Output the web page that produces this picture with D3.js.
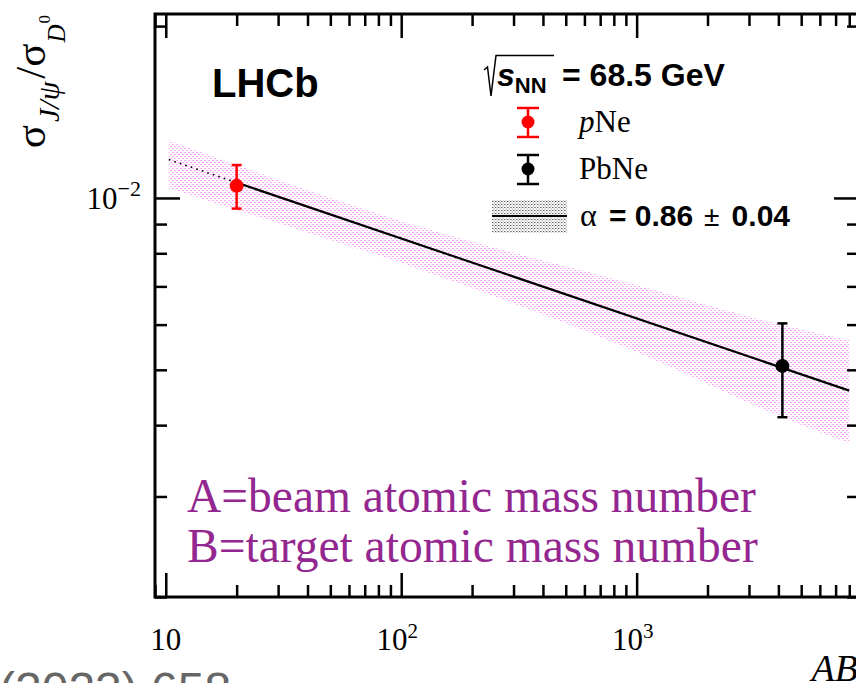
<!DOCTYPE html>
<html>
<head>
<meta charset="utf-8">
<script src="https://cdn.jsdelivr.net/npm/d3@7"></script>
<style>
  body { margin: 0; background: #fff; }
  svg { display: block; }
</style>
</head>
<body>
<svg id="chart" width="856" height="683"></svg>
<script>
// Measured J/psi to D0 cross-section ratios versus AB
const systems = ["pNe", "PbNe"];
const abValues = [20, 4160];
const ratioValues = [0.0105, 0.00508];
const ratioErrors = [0.00092, 0.00095];
const systemColors = ["#ff0000", "#000000"];

// Power-law fit: ratio = norm * (AB)^(alpha - 1)
const alphaFit = 0.86;
const alphaErr = 0.04;
const fitNorm = 0.01618;
const fitStart = 10.3;
const fitSolidStart = 20;
const fitEnd = 8000;

// Fit uncertainty band edges
const bandAB = [10.3, 20, 100, 1000, 4160, 8000];
const bandLow = [0.01040, 0.00953, 0.00769, 0.00537, 0.00413, 0.00372];
const bandHigh = [0.01262, 0.01142, 0.00911, 0.00704, 0.00599, 0.00564];

// Axis ticks
const xMajorTicks = [10, 100, 1000];
const xTickBase = ["10", "10", "10"];
const xTickExp = ["", "2", "3"];
const yMajorTicks = [0.01];
const yTickBase = ["10"];
const yTickExp = ["\u22122"];

const svg = d3.select("#chart");

const frame = { left: 155, right: 859, top: 14, bottom: 597 };

const x = d3.scaleLog().domain([9, 8800]).range([frame.left, frame.right]);
const y = d3.scaleLog().domain([0.002, 0.021]).range([frame.bottom, frame.top]);

// minor tick positions: 2..9 times each decade
function minorTicks(lo, hi) {
  const out = [];
  for (let e = Math.floor(Math.log10(lo)); e <= Math.ceil(Math.log10(hi)); e++) {
    for (let k = 1; k <= 9; k++) {
      const v = k * Math.pow(10, e);
      if (v >= lo * 0.9999 && v <= hi * 1.0001) out.push(v);
    }
  }
  return out;
}
const xMinor = minorTicks(9, 8800).filter(v => !xMajorTicks.some(m => Math.abs(m - v) < 1e-9 * m));
const yMinor = minorTicks(0.002, 0.021).filter(v => !yMajorTicks.some(m => Math.abs(m - v) < 1e-9));

const defs = svg.append("defs");
const pink = defs.append("pattern")
  .attr("id", "pinkDots").attr("patternUnits", "userSpaceOnUse")
  .attr("width", 4).attr("height", 4);
pink.append("rect").attr("x", 0).attr("y", 0).attr("width", 2).attr("height", 1).attr("fill", "#ff4dff").attr("opacity", 0.5);
pink.append("rect").attr("x", 2).attr("y", 2).attr("width", 2).attr("height", 1).attr("fill", "#ff4dff").attr("opacity", 0.5);

const grey = defs.append("pattern")
  .attr("id", "greyDots").attr("patternUnits", "userSpaceOnUse")
  .attr("width", 3).attr("height", 3);
grey.append("rect").attr("x", 0).attr("y", 0).attr("width", 1.5).attr("height", 1).attr("fill", "#666");
grey.append("rect").attr("x", 1.5).attr("y", 1.5).attr("width", 1.5).attr("height", 1).attr("fill", "#aaa");

const plot = svg.append("g");

// uncertainty band
const bandData = bandAB.map((ab, i) => ({ ab, lo: bandLow[i], hi: bandHigh[i] }));
plot.append("path")
  .datum(bandData)
  .attr("fill", "url(#pinkDots)")
  .attr("d", d3.area()
    .x(d => x(d.ab))
    .y0(d => y(d.lo))
    .y1(d => y(d.hi))
    .curve(d3.curveMonotoneX));

// fit line
const fitVal = ab => fitNorm * Math.pow(ab, alphaFit - 1);
const fitLine = d3.line().x(d => x(d)).y(d => y(fitVal(d)));
plot.append("path")
  .datum([fitStart, fitSolidStart])
  .attr("fill", "none").attr("stroke", "#000").attr("stroke-width", 1.6)
  .attr("stroke-dasharray", "1.6,4.2")
  .attr("d", fitLine);
plot.append("path")
  .datum([fitSolidStart, fitEnd])
  .attr("fill", "none").attr("stroke", "#000").attr("stroke-width", 2.2)
  .attr("d", fitLine);

// data points with error bars
const pts = systems.map((s, i) => ({ s, ab: abValues[i], v: ratioValues[i], e: ratioErrors[i], c: systemColors[i] }));
const pg = plot.selectAll("g.pt").data(pts).join("g").attr("class", "pt");
pg.append("line")
  .attr("x1", d => x(d.ab)).attr("x2", d => x(d.ab))
  .attr("y1", d => y(d.v + d.e)).attr("y2", d => y(d.v - d.e))
  .attr("stroke", d => d.c).attr("stroke-width", 2.5);
pg.selectAll("line.cap").data(d => [[d, d.v + d.e], [d, d.v - d.e]]).join("line")
  .attr("class", "cap")
  .attr("x1", d => x(d[0].ab) - 5).attr("x2", d => x(d[0].ab) + 5)
  .attr("y1", d => y(d[1])).attr("y2", d => y(d[1]))
  .attr("stroke", d => d[0].c).attr("stroke-width", 2.5);
pg.append("circle")
  .attr("cx", d => x(d.ab)).attr("cy", d => y(d.v)).attr("r", 7)
  .attr("fill", d => d.c);

// axes ticks (drawn inward on all four sides)
const tickStyle = g => {
  g.select(".domain").remove();
  g.selectAll(".tick line").attr("stroke", "#000").attr("stroke-width", 2.5);
};
svg.append("g").attr("transform", `translate(0,${frame.bottom})`)
  .call(d3.axisBottom(x).tickValues(xMajorTicks).tickSize(-24).tickFormat("")).call(tickStyle);
svg.append("g").attr("transform", `translate(0,${frame.bottom})`)
  .call(d3.axisBottom(x).tickValues(xMinor).tickSize(-12).tickFormat("")).call(tickStyle);
svg.append("g").attr("transform", `translate(0,${frame.top})`)
  .call(d3.axisTop(x).tickValues(xMajorTicks).tickSize(-24).tickFormat("")).call(tickStyle);
svg.append("g").attr("transform", `translate(0,${frame.top})`)
  .call(d3.axisTop(x).tickValues(xMinor).tickSize(-12).tickFormat("")).call(tickStyle);
svg.append("g").attr("transform", `translate(${frame.left},0)`)
  .call(d3.axisLeft(y).tickValues(yMajorTicks).tickSize(-25).tickFormat("")).call(tickStyle);
svg.append("g").attr("transform", `translate(${frame.left},0)`)
  .call(d3.axisLeft(y).tickValues(yMinor).tickSize(-12).tickFormat("")).call(tickStyle);
svg.append("g").attr("transform", `translate(${frame.right},0)`)
  .call(d3.axisRight(y).tickValues(yMajorTicks).tickSize(-25).tickFormat("")).call(tickStyle);
svg.append("g").attr("transform", `translate(${frame.right},0)`)
  .call(d3.axisRight(y).tickValues(yMinor).tickSize(-12).tickFormat("")).call(tickStyle);

// frame
svg.append("rect")
  .attr("x", frame.left).attr("y", frame.top)
  .attr("width", frame.right - frame.left).attr("height", frame.bottom - frame.top)
  .attr("fill", "none").attr("stroke", "#000").attr("stroke-width", 3);

const serif = "'Liberation Serif', 'Times New Roman', serif";
const sans = "'Liberation Sans', Arial, Helvetica, sans-serif";

// x tick labels
xMajorTicks.forEach((v, i) => {
  const t = svg.append("text")
    .attr("x", x(v) + (xTickExp[i] ? -4 : 0)).attr("y", 650)
    .attr("text-anchor", "middle")
    .attr("font-family", serif).attr("font-size", 31).attr("fill", "#000");
  t.append("tspan").text(xTickBase[i]);
  if (xTickExp[i]) t.append("tspan").attr("font-size", 21).attr("dy", -12).text(xTickExp[i]);
});

// y tick labels
yMajorTicks.forEach((v, i) => {
  const t = svg.append("text")
    .attr("x", 141).attr("y", y(v) + 11)
    .attr("text-anchor", "end")
    .attr("font-family", serif).attr("font-size", 31).attr("fill", "#000");
  t.append("tspan").text(yTickBase[i]);
  t.append("tspan").attr("font-size", 22).attr("dy", -13).text(yTickExp[i]);
});

// y axis title
const yt = svg.append("text")
  .attr("transform", "translate(45,15) rotate(-90)")
  .attr("text-anchor", "end")
  .attr("font-family", serif).attr("font-size", 43).attr("fill", "#000");
yt.append("tspan").text("\u03c3");
yt.append("tspan").attr("font-size", 30).attr("font-style", "italic").attr("dx", 3).attr("dy", 14).text("J/\u03c8");
yt.append("tspan").attr("dx", 3).attr("dy", -14).text("/\u03c3");
yt.append("tspan").attr("font-size", 25).attr("font-style", "italic").attr("dx", 1).attr("dy", 20).text("D");
yt.append("tspan").attr("font-size", 17).attr("dx", 1).attr("dy", -15).text("0");

// x axis title
svg.append("text")
  .attr("x", 858).attr("y", 681)
  .attr("text-anchor", "end")
  .attr("font-family", serif).attr("font-style", "italic").attr("font-size", 38)
  .attr("fill", "#000").text("AB");

// LHCb label
svg.append("text")
  .attr("x", 212).attr("y", 97)
  .attr("font-family", sans).attr("font-weight", "bold").attr("font-size", 40)
  .attr("fill", "#000").text("LHCb");

// sqrt(sNN) label
svg.append("path")
  .attr("d", "M484,70 L487.5,67 L491,96 L496,55.5 L554,55.5")
  .attr("fill", "none").attr("stroke", "#000").attr("stroke-width", 1.5);
const en = svg.append("text")
  .attr("x", 497).attr("y", 86)
  .attr("font-family", sans).attr("font-weight", "bold").attr("font-size", 32).attr("fill", "#000");
en.append("tspan").attr("font-style", "italic").text("s");
en.append("tspan").attr("font-size", 22).attr("dy", 7).text("NN");
en.append("tspan").attr("x", 562).attr("dy", -7).text("= 68.5 GeV");

// legend: data markers
const legendY = [122, 169];
systems.forEach((s, i) => {
  const g = svg.append("g");
  const cx = 528, cy = legendY[i], c = systemColors[i];
  g.append("line").attr("x1", cx).attr("x2", cx).attr("y1", cy - 14).attr("y2", cy + 15).attr("stroke", c).attr("stroke-width", 2.5);
  g.append("line").attr("x1", cx - 11).attr("x2", cx + 11).attr("y1", cy - 14).attr("y2", cy - 14).attr("stroke", c).attr("stroke-width", 2.5);
  g.append("line").attr("x1", cx - 11).attr("x2", cx + 11).attr("y1", cy + 15).attr("y2", cy + 15).attr("stroke", c).attr("stroke-width", 2.5);
  g.append("circle").attr("cx", cx).attr("cy", cy).attr("r", 6.5).attr("fill", c);
  const t = svg.append("text")
    .attr("x", 579).attr("y", cy + 10)
    .attr("font-family", serif).attr("font-size", 31).attr("fill", "#000");
  if (s === "pNe") {
    t.append("tspan").attr("font-style", "italic").text("p");
    t.append("tspan").text("Ne");
  } else {
    t.text(s);
  }
});

// legend: fit
svg.append("rect").attr("x", 492).attr("y", 200).attr("width", 75).attr("height", 33).attr("fill", "url(#greyDots)");
svg.append("line").attr("x1", 492).attr("x2", 567).attr("y1", 216).attr("y2", 216).attr("stroke", "#000").attr("stroke-width", 2.2);
const fitY = 226;
svg.append("text").attr("x", 580).attr("y", fitY)
  .attr("font-family", serif).attr("font-size", 32).attr("fill", "#000").text("\u03b1");
svg.append("text").attr("x", 609).attr("y", fitY)
  .attr("font-family", sans).attr("font-weight", "bold").attr("font-size", 30).attr("fill", "#000")
  .text(`= ${alphaFit.toFixed(2)}`);
svg.append("text").attr("x", 704).attr("y", fitY)
  .attr("font-family", sans).attr("font-size", 28).attr("fill", "#000").text("\u00b1");
svg.append("text").attr("x", 790).attr("y", fitY).attr("text-anchor", "end")
  .attr("font-family", sans).attr("font-weight", "bold").attr("font-size", 30).attr("fill", "#000")
  .text(alphaErr.toFixed(2));

// explanatory note
const note = ["A=beam atomic mass number", "B=target atomic mass number"];
note.forEach((line, i) => {
  svg.append("text")
    .attr("x", 187).attr("y", 512 + i * 50)
    .attr("font-family", serif).attr("font-size", 47.5).attr("fill", "#93278f")
    .text(line);
});

// page text below the figure
svg.append("text")
  .attr("x", -1).attr("y", 706)
  .attr("font-family", sans).attr("font-size", 48).attr("fill", "#666")
  .text("(2023) 658");
</script>
</body>
</html>
